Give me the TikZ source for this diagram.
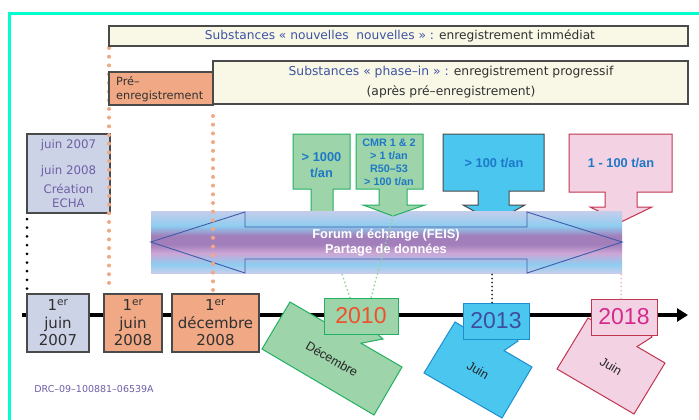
\documentclass[tikz,border=0pt]{standalone}
\usepackage{fontspec}
\setmainfont{DejaVu Sans}
\newfontfamily\arialfam{Liberation Sans}
\usetikzlibrary{arrows.meta}

\definecolor{framecol}{HTML}{00FFCC}
\definecolor{cream}{HTML}{F9F8E6}
\definecolor{boxline}{HTML}{4A4A4A}
\definecolor{salmon}{HTML}{F1A985}
\definecolor{lavbox}{HTML}{CDD3E7}
\definecolor{purpletext}{HTML}{6F5FA5}
\definecolor{titleblue}{HTML}{3D52A3}
\definecolor{darktext}{HTML}{303030}
\definecolor{greenfill}{HTML}{9DD4A9}
\definecolor{greenline}{HTML}{22B063}
\definecolor{greendots}{HTML}{8FD49C}
\definecolor{cyanfill}{HTML}{4AC6EF}
\definecolor{cyanline}{HTML}{1C8ED0}
\definecolor{pinkfill}{HTML}{F3D2E3}
\definecolor{pinkline}{HTML}{C0354F}
\definecolor{pinkdots}{HTML}{F2B8D6}
\definecolor{callblue}{HTML}{1E78C8}
\definecolor{redyear}{HTML}{F1502A}
\definecolor{indigoyear}{HTML}{3F4DA0}
\definecolor{magentayear}{HTML}{D42A8E}
\definecolor{arrowline}{HTML}{3E5BAA}
\definecolor{bandlav}{HTML}{C6CDEB}
\definecolor{bandsky}{HTML}{8ECDF0}
\definecolor{bandpurp}{HTML}{A27FBB}
\definecolor{bandpink}{HTML}{CDA6D6}

% vertical colour band of the data-sharing banner (inner 25bp..75bp fills the node)
\pgfdeclareverticalshading{feisband}{100bp}{color(0bp)=(bandlav); color(25bp)=(bandlav);
  color(32bp)=(bandsky); color(41bp)=(bandpink); color(48bp)=(bandpurp);
  color(55bp)=(bandpurp); color(63bp)=(bandsky); color(75bp)=(bandlav); color(100bp)=(bandlav)}

\newcommand\setsize[2]{\fontsize{#1}{#2}\selectfont}

\begin{document}
\begin{tikzpicture}[x=1pt,y=-1pt,
  panel/.style={draw=boxline, line width=1.1pt, inner sep=0pt, outer sep=0pt},
  notebox/.style={panel, fill=cream},
  datebox/.style={panel, minimum height=58pt, align=center, text=darktext,
    font=\setsize{15}{17.5}},
  yearbox/.style={line width=1pt, inner sep=0pt, minimum width=66pt, minimum height=36pt,
    font=\arialfam\setsize{23}{23}},
  callout/.style={line width=1pt},
  callouttext/.style={align=center, text=callblue, font=\arialfam\bfseries\setsize{12.8}{15.5}},
  orangedots/.style={draw=salmon, line width=4pt, line cap=round, dash pattern=on 0pt off 8.7pt},
  blackdots/.style={draw=black, line width=3pt, line cap=round, dash pattern=on 0pt off 8.7pt},
  finedots/.style={line width=2pt, line cap=round, dash pattern=on 0pt off 4pt},
  tiltedtext/.style={rotate=-30, font=\arialfam\setsize{12.5}{12.5}, text=black!85}
]
\useasboundingbox (0,0) rectangle (699,420);
\fill[white] (0,0) rectangle (699,420);

% frame
\draw[framecol, line width=3pt] (9,420) -- (9,13.5) -- (699,13.5);

% upper callouts lying under the banner
\draw[callout, fill=greenfill, draw=greenline] (293,134) -- (350,134) -- (350,189) -- (333,189)
  -- (333,214) -- (344,214) -- (322,228) -- (300,214) -- (311,214) -- (311,189) -- (293,189) -- cycle;
\node[callouttext] (t1000) at (321.5,165) {> 1000\\t/an};
\coordinate (s1000) at (322,214);

\draw[callout, fill=cyanfill, draw=boxline] (443,134) -- (544,134) -- (544,191) -- (509,191)
  -- (509,205) -- (525,205) -- (494,222) -- (463,205) -- (478,205) -- (478,191) -- (443,191) -- cycle;
\node[callouttext] (t100) at (494,163) {> 100 t/an};

\draw[callout, fill=pinkfill, draw=pinkline] (569,134) -- (672,134) -- (672,192) -- (637,192)
  -- (637,207) -- (652,207) -- (621,222) -- (590,207) -- (605,207) -- (605,192) -- (569,192) -- cycle;
\node[callouttext] (t1to100) at (621,163) {1 - 100 t/an};

% landing points of the green links on top of the 2010 box
\coordinate (g2010a) at (350,298);
\coordinate (g2010b) at (371,298);

% green dotted link under the banner
\draw[finedots, draw=greendots] (s1000) -- (g2010a);

% data-sharing banner
\node[shade, shading=feisband, minimum width=471pt, minimum height=62pt, inner sep=0pt] (band) at (386.5,242) {};
\draw[arrowline, line width=0.9pt, line join=miter] (band.west) -- (245,212) -- (245,227) -- (527,227)
  -- (527,212) -- (band.east) -- (527,273) -- (527,259) -- (245,259) -- (245,273) -- cycle;
\node[text=white, align=center, font=\arialfam\bfseries\setsize{12.8}{15}] (feis) at (386,243)
  {Forum d échange (FEIS)\\Partage de données};

% callout lying over the banner
\draw[callout, fill=greenfill, draw=greenline] (356,134) -- (423,134) -- (423,189) -- (407,189)
  -- (407,205) -- (425,205) -- (393,216) -- (363,205) -- (379,205) -- (379,189) -- (356,189) -- cycle;
\node[callouttext, font=\arialfam\bfseries\setsize{10.8}{13.2}] (tcmr) at (389,162.5)
  {CMR 1 \& 2\\> 1 t/an\\R50–53\\> 100 t/an};
\coordinate (scmr) at (393,216);
\draw[finedots, draw=greendots] (scmr) -- (g2010b);

% ECHA note
\node[panel, fill=lavbox, minimum width=83pt, minimum height=79pt] (echa) at (68.5,173.5) {};
\node[align=center, text=purpletext, font=\setsize{11.8}{13.5}] (echatxt) at (echa.center)
  {juin 2007\\[12pt]juin 2008\\[6pt]Création\\ECHA};

% dotted guides
\coordinate (oa1) at (109,48);  \coordinate (oa2) at (109,290);
\coordinate (ob1) at (213,116); \coordinate (ob2) at (213,290);
\coordinate (ka1) at (27,219);  \coordinate (ka2) at (27,290);
\draw[orangedots] (oa1) -- (oa2);
\draw[orangedots] (ob1) -- (ob2);
\draw[blackdots] (ka1) -- (ka2);

% registration regimes
\node[notebox, minimum width=579pt, minimum height=20pt] (newsub) at (398.5,36) {};
\node[font=\setsize{12.2}{14}, inner sep=0pt] (newsubtxt) at (400,36)
  {\textcolor{titleblue}{Substances « nouvelles~ nouvelles » :} \textcolor{darktext}{enregistrement immédiat}};
\node[notebox, minimum width=475pt, minimum height=43pt] (phasein) at (450.5,82.5) {};
\node[align=center, font=\setsize{12.3}{20}, inner sep=0pt] (phaseintxt) at (451,82.5)
  {\textcolor{titleblue}{Substances « phase–in » :} \textcolor{darktext}{enregistrement progressif}\\
   \textcolor{darktext}{(après pré–enregistrement)}};
\node[panel, fill=salmon, minimum width=104pt, minimum height=33pt] (prereg) at (161,88.5) {};
\node[anchor=west, align=left, text=darktext, font=\setsize{11.3}{13.5}, inner sep=0pt] (preregtxt) at (116,89)
  {Pré–\\enregistrement};

% time axis
\coordinate (ax0) at (22,315);
\coordinate (ax1) at (688,315);
\draw[line width=4pt, -{Triangle[length=11pt,width=13pt]}] (ax0) -- (ax1);

% milestone dates
\node[datebox, fill=lavbox, minimum width=62pt] (d1) at (58,323) {1\textsuperscript{er}\\juin\\2007};
\node[datebox, fill=salmon, minimum width=58pt] (d2) at (133,323) {1\textsuperscript{er}\\juin\\2008};
\node[datebox, fill=salmon, minimum width=87pt] (d3) at (215.5,323) {1\textsuperscript{er}\\décembre\\2008};

% tilted month tags
\draw[callout, fill=greenfill, draw=greenline] (290,302) -- (330,325.2) -- (350,311) -- (383,339)
  -- (361,343.2) -- (402,367) -- (374,415) -- (262,349) -- cycle;
\node[tiltedtext] (m2010) at (332,359) {Décembre};
\draw[callout, fill=cyanfill, draw=cyanline] (455,322) -- (470,330.8) -- (505,325) -- (518,341)
  -- (504,350.6) -- (532,367) -- (502,418) -- (424,373) -- cycle;
\node[tiltedtext] (m2013) at (478,370) {Juin};
\draw[callout, fill=pinkfill, draw=pinkline] (588,318) -- (600,325) -- (640,320) -- (652,337)
  -- (637,346.6) -- (665,363) -- (634,414) -- (557,369) -- cycle;
\node[tiltedtext] (m2018) at (611,366) {Juin};

% year boxes on top of their tags
\node[yearbox, draw=greenline, fill=greenfill, text=redyear, minimum width=74pt] (y2010) at (361,316) {2010};
\node[yearbox, draw=cyanline, fill=cyanfill, text=indigoyear] (y2013) at (496,321) {2013};
\node[yearbox, draw=pinkline, fill=pinkfill, text=magentayear] (y2018) at (624,317) {2018};

% short links from the banner to the later deadlines
\draw[finedots, draw=black!80] ([xshift=-4pt]y2013.north) -- ([xshift=-4pt]y2013.north |- band.south);
\draw[finedots, draw=pinkdots] ([xshift=-3pt]y2018.north) -- ([xshift=-3pt]y2018.north |- band.south);

% document reference
\node[text=purpletext, font=\setsize{9.5}{11}] (docref) at (94,389) {DRC–09–100881–06539A};
\end{tikzpicture}
\end{document}
